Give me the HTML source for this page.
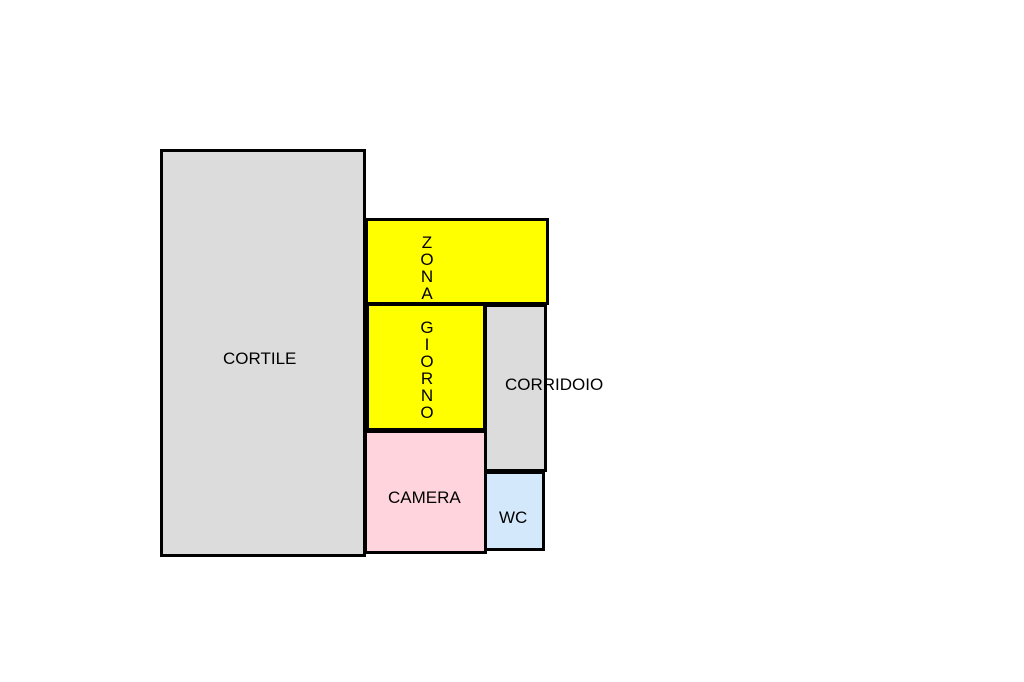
<!DOCTYPE html>
<html><head><style>
body{margin:0;width:1024px;height:682px;background:#fff;position:relative;overflow:hidden;font-family:"Liberation Sans",sans-serif;}
.r{position:absolute;box-sizing:border-box;border:3px solid #000;}
.t{position:absolute;font-size:17px;color:#000;}
.v{position:absolute;font-size:17px;line-height:17px;text-align:center;width:20px;}
</style></head><body>
<div class="r" style="left:160px;top:149px;width:206px;height:408px;background:#dcdcdc"></div>
<div class="r" style="left:365px;top:218px;width:184px;height:87px;background:#ffff00"></div>
<div class="r" style="left:366px;top:303px;width:120px;height:128px;background:#ffff00"></div>
<div class="r" style="left:484px;top:304px;width:63px;height:168px;background:#dcdcdc"></div>
<div class="r" style="left:364px;top:430px;width:123px;height:124px;background:#ffd4dc"></div>
<div class="r" style="left:484px;top:471px;width:61px;height:80px;background:#d4e8fc"></div>
<div class="t" style="left:223px;top:349px">CORTILE</div>
<div class="t" style="left:505px;top:375px">CORRIDOIO</div>
<div class="t" style="left:388px;top:488px">CAMERA</div>
<div class="t" style="left:499px;top:508px">WC</div>
<div class="v" style="left:417px;top:234px">Z<br>O<br>N<br>A</div>
<div class="v" style="left:417px;top:319px">G<br>I<br>O<br>R<br>N<br>O</div>
</body></html>
